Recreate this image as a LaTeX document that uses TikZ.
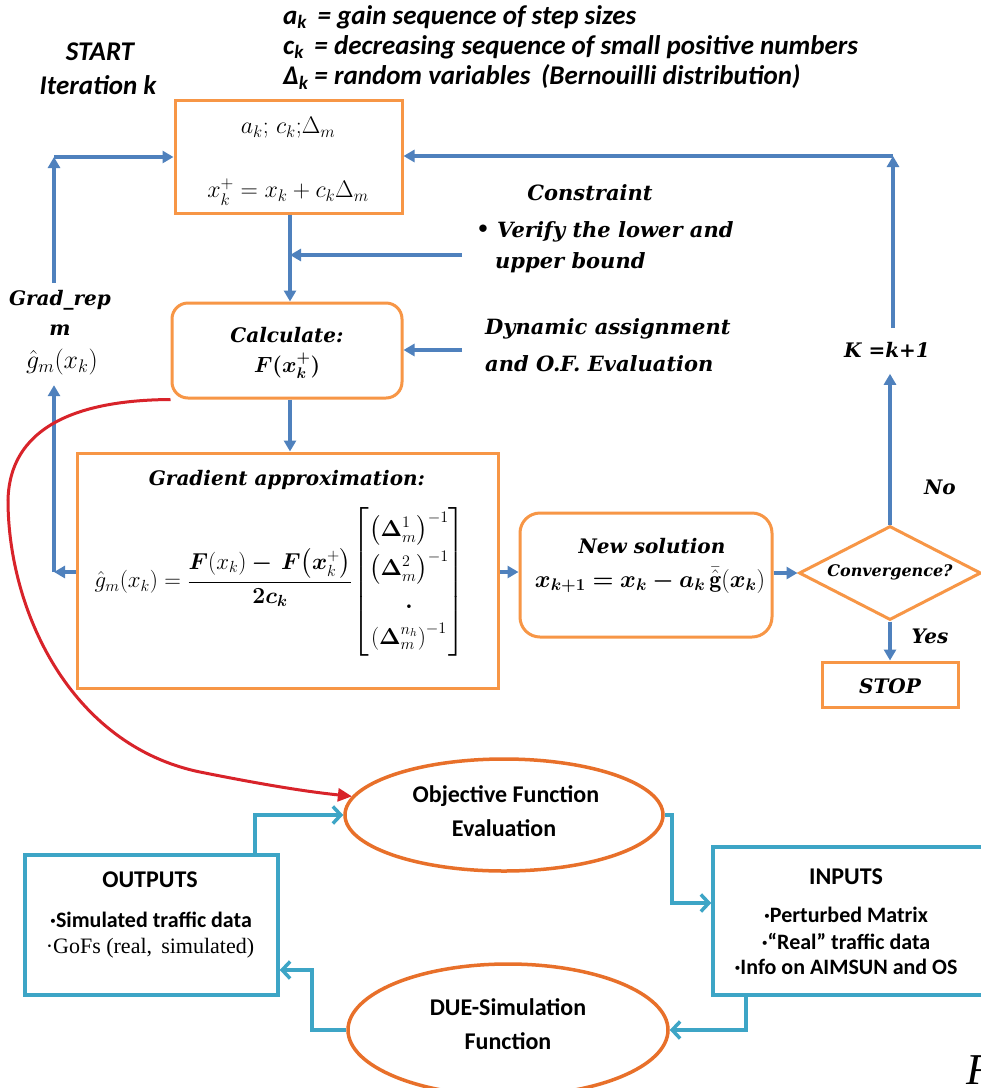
\documentclass[tikz,border=0pt]{standalone}
\usepackage{fix-cm}
\usepackage{amsmath}
\usepackage{bm}
\usepackage{fontspec}
\usetikzlibrary{arrows.meta,shapes.geometric}

\newfontfamily\camb{DejaVu Serif}
\newfontfamily\calib{Carlito}
\newfontfamily\tms{Liberation Serif}

\definecolor{boxorange}{HTML}{F79646}
\definecolor{ellorange}{HTML}{E8702A}
\definecolor{flowblue}{HTML}{4F81BD}
\definecolor{loopteal}{HTML}{3DA5C6}
\definecolor{curvered}{HTML}{D8232A}

\tikzset{
  obox/.style={draw=boxorange, line width=3pt, fill=white, inner sep=0pt},
  oell/.style={ellipse, draw=ellorange, line width=3.5pt, fill=white, inner sep=0pt},
  tbox/.style={draw=loopteal, line width=3.5pt, fill=white, inner sep=0pt},
  lbl/.style={font=\camb\bfseries\itshape\fontsize{20}{24}\selectfont, inner sep=0pt},
  lblw/.style={font=\camb\bfseries\itshape\fontsize{21}{25}\selectfont, inner sep=0pt},
  mth/.style={font=\fontsize{24}{28}\selectfont, inner sep=0pt},
  toptxt/.style={font=\calib\bfseries\itshape\fontsize{27}{30}\selectfont, inner sep=0pt},
  loweb/.style={font=\calib\bfseries\fontsize{24}{28}\selectfont, inner sep=0pt},
  lowes/.style={font=\calib\bfseries\fontsize{22}{25}\selectfont, inner sep=0pt},
  barrow/.style={draw=flowblue, line width=3.5pt, -{Triangle[length=11pt,width=12pt]}},
  carrow/.style={draw=loopteal, line width=3.5pt, -{Straight Barb[length=8pt,width=17pt,line width=3.5pt]}},
  rarrow/.style={draw=curvered, line width=3pt, -{Triangle[length=14pt,width=13pt]}}
}

\begin{document}
\begin{tikzpicture}[x=1pt,y=-1pt]
\useasboundingbox (0,0) rectangle (981,1088);
\fill[white] (0,0) rectangle (981,1088);

% legend of the symbols
\node[toptxt, anchor=west] (leg1) at (283,17) {a\textsubscript{k}\, = gain sequence of step sizes};
\node[toptxt, anchor=west] (leg2) at (283,47) {c\textsubscript{k}\, = decreasing sequence of small positive numbers};
\node[toptxt, anchor=west] (leg3) at (283,77) {Δ\textsubscript{k} = random variables\, (Bernouilli distribution)};

\node[toptxt] (start) at (100,52) {START};
\node[toptxt] (iter) at (98,85) {Iteration k};

% main loop boxes
\node[obox, minimum width=227pt, minimum height=113pt] (box1) at (288.5,156.5) {};
\node[mth] (b1a) at (288,128) {$a_k$; $c_k$;$\Delta_m$};
\node[mth] (b1b) at (288,192) {$x_k^{+} = x_k + c_k\Delta_m$};

\node[obox, rounded corners=16pt, minimum width=230pt, minimum height=95pt] (calc) at (287,350.5) {};
\node[lbl] (calcA) at (287,335) {Calculate:};
\node[mth, font=\fontsize{22}{26}\selectfont] (calcB) at (287,366) {$\bm{F(x_k^{+})}$};

\node[obox, minimum width=421pt, minimum height=235pt] (grad) at (287.5,570.5) {};
\node[lbl] (gradA) at (287,480) {Gradient approximation:};
\node[mth, font=\fontsize{23}{27}\selectfont] (gradB) at (280,582) {$\hat{g}_m(x_k) = \dfrac{\bm{F}\!\left(x_k\right)\bm{-}\,\bm{F}\!\left(\bm{x}_k^{+}\right)}{\bm{2c_k}}\!\begin{bmatrix}\left(\bm{\Delta}_m^{1}\right)^{-1}\\[6pt]\left(\bm{\Delta}_m^{2}\right)^{-1}\\[6pt]\bm{.}\\[6pt]\left(\bm{\Delta}_m^{n_h}\right)^{-1}\end{bmatrix}$};

\node[obox, rounded corners=20pt, minimum width=252pt, minimum height=124pt] (newsol) at (646,575) {};
\node[lbl] (newA) at (652,546) {New solution};
\node[mth] (newB) at (650,580) {$\bm{x_{k+1} = x_k - a_k}\,\bar{\hat{\mathbf{g}}}(\bm{x_k})$};

\node[diamond, draw=boxorange, line width=3pt, fill=white, inner sep=0pt, minimum width=182pt, minimum height=94pt] (conv) at (890,573) {};
\node[lbl, font=\camb\bfseries\itshape\fontsize{16}{19}\selectfont] (convA) at (890,572) {Convergence?};

\node[obox, minimum width=136pt, minimum height=45pt] (stop) at (890,684.5) {};
\node[lbl] (stopA) at (890,686) {STOP};

% side labels
\node[lblw] (cons) at (590,193) {Constraint};
\node[lblw] (bul) at (483,231) {•};
\node[lblw, anchor=west] (ver1) at (497,232) {Verify the lower and};
\node[lblw, anchor=west] (ver2) at (495,263) {upper bound};
\node[lblw, anchor=west] (dyn1) at (485,329) {Dynamic assignment};
\node[lblw, anchor=west] (dyn2) at (485,364) {and O.F. Evaluation};

\node[lbl] (gr1) at (60,300) {Grad\_rep};
\node[lbl] (gr2) at (60,330) {m};
\node[mth, font=\fontsize{26}{30}\selectfont] (gr3) at (62,362) {$\hat{g}_m(x_k)$};

\node[lbl] (kk) at (887,350) {K =k+1};
\node[lbl] (no) at (940,487) {No};
\node[lbl] (yes) at (930,636) {Yes};

% flow connectors
\coordinate (ltop) at (54,157);
\coordinate (rtop) at (893,156);
\coordinate (gl) at (54,572);
\coordinate (cin) at (462,255);
\coordinate (din) at (462,350);

\draw[barrow] (ltop |- gr1.north) ++(0,-7) -- (ltop);
\draw[barrow] (ltop) -- (box1.west |- ltop);
\draw[barrow] (rtop |- kk.north) ++(0,-14) -- (rtop);
\draw[barrow] (rtop) -- (box1.east |- rtop);
\draw[barrow] (box1.south -| 290,0) -- (calc.north -| 290,0);
\draw[barrow] (cin) -- (cin -| 290,0);
\draw[barrow] (din) -- (calc.east |- din);
\draw[barrow] (calc.south -| 290,0) -- (grad.north -| 290,0);
\draw[barrow] (grad.west |- gl) -- (gl);
\draw[barrow] (gl) -- ([yshift=-10pt]gl |- gr3.south);
\draw[barrow] (grad.east |- gl) -- (newsol.west |- gl);
\draw[barrow] (newsol.east |- conv.west) -- (conv.west);
\draw[barrow] (conv.south) -- (stop.north);
\draw[barrow] (conv.north) -- ([yshift=-16pt]conv.north |- kk.south);

% evaluation loop
\node[oell, minimum width=318pt, minimum height=112pt] (obj) at (504,815) {};
\node[loweb] (objA) at (506,796) {Objective Function};
\node[loweb] (objB) at (504,828) {Evaluation};

\node[oell, minimum width=320pt, minimum height=132pt] (due) at (508,1030) {};
\node[loweb] (dueA) at (508,1007) {DUE-Simulation};
\node[loweb] (dueB) at (508,1041) {Function};

\node[tbox, minimum width=253pt, minimum height=140pt] (out) at (151.5,925) {};
\node[loweb] (outA) at (150,880) {OUTPUTS};
\node[lowes] (outB) at (151,920) {·Simulated traffic data};
\node[font=\tms\fontsize{22}{25}\selectfont, inner sep=0pt] (outC) at (150,948) {·GoFs (real,\, simulated)};

\node[tbox, minimum width=290pt, minimum height=148pt] (inp) at (858,921) {};
\node[loweb] (inA) at (846,877) {INPUTS};
\node[lowes] (inB) at (846,915) {·Perturbed Matrix};
\node[lowes] (inC) at (846,941) {·“Real” traffic data};
\node[lowes] (inD) at (846,967) {·Info on AIMSUN and OS};

\coordinate (o1) at (255,815);
\coordinate (o2) at (672,815);
\coordinate (o3) at (672,903);
\coordinate (o4) at (746,1030);
\coordinate (o5) at (312,1030);
\coordinate (o6) at (312,970);

\draw[carrow] (out.north -| o1) -- (o1) -- (obj.west);
\draw[carrow] (obj.east) -- (o2) -- (o3) -- (inp.west |- o3);
\draw[carrow] (inp.south -| o4) -- (o4) -- (due.east);
\draw[carrow] (due.west) -- (o5) -- (o6) -- (out.east |- o6);

% link from the calculation step to the simulator
\draw[rarrow] (calc.south west) .. controls (90,400) and (10,420) .. (8,500)
  .. controls (8,610) and (70,745) .. (200,772)
  .. controls (270,786) and (310,792) .. (obj.173);

% caption remnant
\node[font=\tms\itshape\fontsize{44}{48}\selectfont, inner sep=0pt, anchor=west] (capF) at (966,1070) {F};
\end{tikzpicture}
\end{document}
